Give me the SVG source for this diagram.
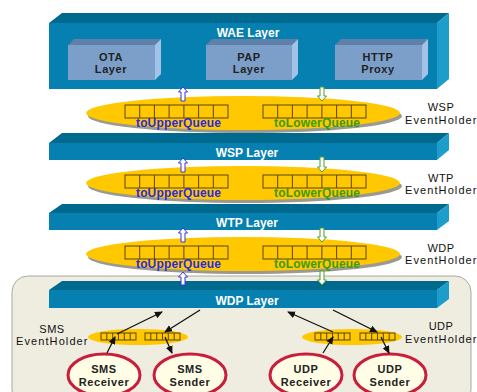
<svg xmlns="http://www.w3.org/2000/svg" width="477" height="392" viewBox="0 0 477 392">
<style>
.front{fill:#0580b0}
.top{fill:#006a8e}
.side{fill:#1c9dcc}
.bfront{fill:#7b9fc9}
.btop{fill:#5f80a8}
.bside{fill:#a2c2e6}
.lbl{font-family:"Liberation Sans",Arial,sans-serif;font-size:12px;font-weight:bold;fill:#fff;text-anchor:middle}
.blbl{font-family:"Liberation Sans",Arial,sans-serif;font-size:11px;font-weight:bold;fill:#222;text-anchor:middle;letter-spacing:0.6px}
.eh{font-family:"Liberation Sans",Arial,sans-serif;font-size:11px;fill:#111;text-anchor:middle;letter-spacing:0.5px}
.up{font-family:"Liberation Sans",Arial,sans-serif;font-size:12px;font-weight:bold;fill:#2a2ae0}
.lo{font-family:"Liberation Sans",Arial,sans-serif;font-size:12px;font-weight:bold;fill:#3a9a10}
.ell{fill:#ffc800}
.shadow{fill:#9a9a90}
.q{fill:#ffc800;stroke:#5a4400;stroke-width:1}
.qc{stroke:#5a4400;stroke-width:1;fill:none}
.au{fill:#fff;stroke:#3535e0;stroke-width:1}
.ad{fill:#fff;stroke:#4aa020;stroke-width:1}
.con{stroke:#111;stroke-width:1.3;fill:none;marker-end:url(#ah)}
.node{fill:#fffde6;stroke:#c81e3c;stroke-width:3}
</style>
<defs>
<marker id="ah" markerWidth="8" markerHeight="8" refX="7" refY="4" orient="auto" markerUnits="userSpaceOnUse">
<path d="M0,0.5 L8,4 L0,7.5 z" fill="#111"/>
</marker>
<g id="q7">
<rect class="q" x="0" y="0" width="103" height="13"/>
<path class="qc" d="M14.7,0V13M29.4,0V13M44.1,0V13M58.9,0V13M73.6,0V13M88.3,0V13"/>
</g>
<g id="q6">
<rect class="q" x="0" y="0" width="35" height="7"/>
<path class="qc" d="M5.8,0V7M11.7,0V7M17.5,0V7M23.3,0V7M29.2,0V7"/>
</g>
</defs>
<rect width="477" height="392" fill="#fff"/>
<rect id="bg" x="12" y="276" width="459" height="130" rx="16" fill="#efede0" stroke="#aaa9a0" stroke-width="1"/>

<g id="wae">
<polygon class="top" points="49,23 62,13 449,13 437,23"/>
<rect class="front" x="49" y="23" width="388" height="66"/>
<polygon class="side" points="437,23 449,13 449,79 437,89"/>
<text class="lbl" x="248" y="37">WAE Layer</text>
</g>
<g id="ota">
<polygon class="btop" points="68,45 74,39 161,39 155,45"/>
<rect class="bfront" x="68" y="45" width="87" height="35"/>
<polygon class="bside" points="155,45 161,39 161,74 155,80"/>
<text class="blbl" x="111" y="60.5">OTA</text>
<text class="blbl" x="111" y="73">Layer</text>
</g>
<g id="pap">
<polygon class="btop" points="206,45 212,39 298,39 292,45"/>
<rect class="bfront" x="206" y="45" width="86" height="35"/>
<polygon class="bside" points="292,45 298,39 298,74 292,80"/>
<text class="blbl" x="249" y="60.5">PAP</text>
<text class="blbl" x="249" y="73">Layer</text>
</g>
<g id="http">
<polygon class="btop" points="335,45 341,39 428,39 422,45"/>
<rect class="bfront" x="335" y="45" width="87" height="35"/>
<polygon class="bside" points="422,45 428,39 428,74 422,80"/>
<text class="blbl" x="378" y="60.5">HTTP</text>
<text class="blbl" x="378" y="73">Proxy</text>
</g>

<g id="wsp-eh">
<ellipse class="shadow" cx="245" cy="116" rx="157" ry="17"/>
<ellipse class="ell" cx="243" cy="113" rx="157" ry="17"/>
<use href="#q7" x="125" y="105"/>
<use href="#q7" x="263" y="105"/>
<text class="up" x="136" y="127" textLength="85">toUpperQueue</text>
<text class="lo" x="274" y="127" textLength="86">toLowerQueue</text>
<text class="eh" x="441" y="111">WSP</text>
<text class="eh" x="441" y="123.5" textLength="72">EventHolder</text>
</g>

<g id="wsp">
<polygon class="top" points="49,143 62,133 449,133 437,143"/>
<rect class="front" x="49" y="143" width="388" height="17"/>
<polygon class="side" points="437,143 449,133 449,150 437,160"/>
<text class="lbl" x="247" y="157">WSP Layer</text>
</g>

<g id="wtp-eh">
<ellipse class="shadow" cx="245" cy="186" rx="157" ry="17"/>
<ellipse class="ell" cx="243" cy="183" rx="157" ry="17"/>
<use href="#q7" x="125" y="175"/>
<use href="#q7" x="263" y="175"/>
<text class="up" x="136" y="197" textLength="85">toUpperQueue</text>
<text class="lo" x="274" y="197" textLength="86">toLowerQueue</text>
<text class="eh" x="441" y="181.5">WTP</text>
<text class="eh" x="441" y="194" textLength="72">EventHolder</text>
</g>

<g id="wtp">
<polygon class="top" points="49,213 62,204 449,204 437,213"/>
<rect class="front" x="49" y="213" width="388" height="17"/>
<polygon class="side" points="437,213 449,204 449,221 437,230"/>
<text class="lbl" x="247" y="227">WTP Layer</text>
</g>

<g id="wdp-eh">
<ellipse class="shadow" cx="245" cy="257" rx="157" ry="17"/>
<ellipse class="ell" cx="243" cy="254" rx="157" ry="17"/>
<use href="#q7" x="125" y="246"/>
<use href="#q7" x="263" y="246"/>
<text class="up" x="136" y="268" textLength="85">toUpperQueue</text>
<text class="lo" x="274" y="268" textLength="86">toLowerQueue</text>
<text class="eh" x="441" y="251.5">WDP</text>
<text class="eh" x="441" y="264" textLength="72">EventHolder</text>
</g>

<g id="wdp">
<polygon class="top" points="49,290 62,281 449,281 437,290"/>
<rect class="front" x="49" y="290" width="388" height="18"/>
<polygon class="side" points="437,290 449,281 449,299 437,308"/>
<text class="lbl" x="247" y="305">WDP Layer</text>
</g>

<g id="sms-eh">
<ellipse class="ell" cx="138" cy="337" rx="50" ry="8"/>
<use href="#q6" x="101" y="333"/>
<use href="#q6" x="145" y="333"/>
<text class="eh" x="52" y="332.5">SMS</text>
<text class="eh" x="52" y="345" textLength="72">EventHolder</text>
</g>
<g id="udp-eh">
<ellipse class="ell" cx="352" cy="337" rx="50" ry="8"/>
<use href="#q6" x="315" y="333"/>
<use href="#q6" x="360" y="333"/>
<text class="eh" x="441" y="330">UDP</text>
<text class="eh" x="441" y="342.5" textLength="72">EventHolder</text>
</g>

<g id="sms-receiver">
<ellipse class="node" cx="104" cy="375" rx="36" ry="21"/>
<text class="blbl" x="104" y="373">SMS</text>
<text class="blbl" x="104" y="385.5">Receiver</text>
</g>
<g id="sms-sender">
<ellipse class="node" cx="190" cy="375" rx="36" ry="21"/>
<text class="blbl" x="190" y="373">SMS</text>
<text class="blbl" x="190" y="385.5">Sender</text>
</g>
<g id="udp-receiver">
<ellipse class="node" cx="306" cy="375" rx="36" ry="21"/>
<text class="blbl" x="306" y="373">UDP</text>
<text class="blbl" x="306" y="385.5">Receiver</text>
</g>
<g id="udp-sender">
<ellipse class="node" cx="390" cy="375" rx="36" ry="21"/>
<text class="blbl" x="390" y="373">UDP</text>
<text class="blbl" x="390" y="385.5">Sender</text>
</g>

<g id="connectors">
<polygon class="au" points="183,87 187.5,92 185,92 185,101 181,101 181,92 178.5,92"/>
<polygon class="ad" points="322,101 326.5,96 324,96 324,87 320,87 320,96 317.5,96"/>
<polygon class="au" points="183,158 187.5,163 185,163 185,172 181,172 181,163 178.5,163"/>
<polygon class="ad" points="322,172 326.5,167 324,167 324,157 320,157 320,167 317.5,167"/>
<polygon class="au" points="183,228 187.5,233 185,233 185,242 181,242 181,233 178.5,233"/>
<polygon class="ad" points="322,242 326.5,237 324,237 324,228 320,228 320,237 317.5,237"/>
<polygon class="au" points="183,272 187.5,277 185,277 185,285 181,285 181,277 178.5,277"/>
<polygon class="ad" points="322,285 326.5,280 324,280 324,271 320,271 320,280 317.5,280"/>
<line class="con" x1="107" y1="353" x2="115" y2="337"/>
<line class="con" x1="117" y1="334" x2="162" y2="312"/>
<line class="con" x1="200" y1="310" x2="165" y2="332"/>
<line class="con" x1="165" y1="337" x2="172" y2="353"/>
<line class="con" x1="333" y1="332" x2="288" y2="312"/>
<line class="con" x1="333" y1="310" x2="377" y2="332"/>
<line class="con" x1="323" y1="353" x2="333" y2="337"/>
<line class="con" x1="381" y1="337" x2="389" y2="353"/>
</g>
</svg>
